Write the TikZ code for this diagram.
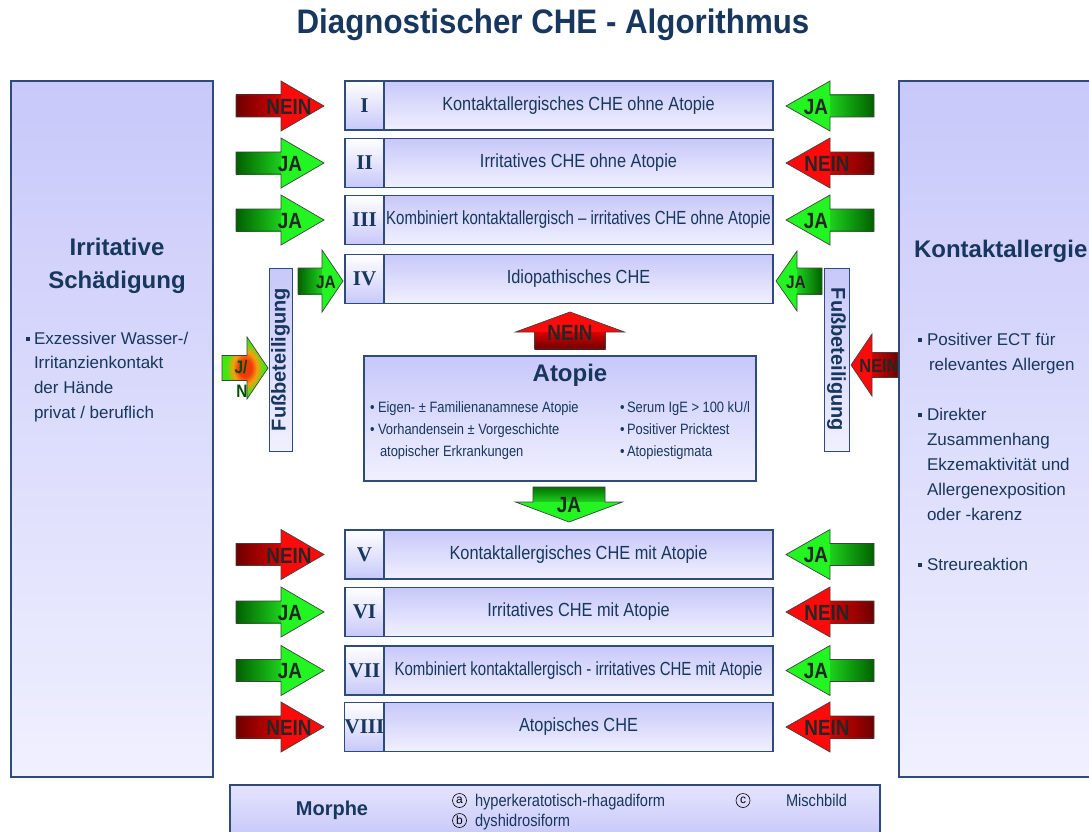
\documentclass[tikz,border=0pt]{standalone}
\usepackage{fontspec}
\setmainfont{Liberation Sans}
\newfontfamily\narrowfont[FakeStretch=0.86]{Liberation Sans}
\newfontfamily\titlefont[FakeStretch=0.92]{Liberation Sans}
\newfontfamily\tightfont[FakeStretch=0.79]{Liberation Sans}
\newfontfamily\numfont{Liberation Serif}

\definecolor{navy}{HTML}{17375E}
\definecolor{frame}{HTML}{2F4B7C}
\definecolor{lavtop}{HTML}{C8C8FA}
\definecolor{lavbot}{HTML}{F0F0FF}
\definecolor{gdark}{HTML}{006000}
\definecolor{glight}{HTML}{22F522}
\definecolor{rdark}{HTML}{6E0000}
\definecolor{rlight}{HTML}{FF0A0A}
\definecolor{labelgray}{HTML}{262626}
\definecolor{jngreen}{HTML}{40E810}
\definecolor{jnred}{HTML}{F03A08}
\definecolor{jnorange}{HTML}{F5A010}

% green arrow with a reddish core
\pgfdeclareradialshading{jnshade}{\pgfpoint{0bp}{0bp}}{%
  color(0bp)=(jnred); color(7bp)=(jnred); color(13bp)=(jnorange);
  color(21bp)=(jngreen); color(50bp)=(jngreen)}

\newcommand{\fs}[2]{\fontsize{#1}{#2}\selectfont}

% horizontal block arrow: tail x, base x, tip x, centre y,
% shaft half height, head half height, shaft left colour, shaft right colour, head colour
\newcommand{\harrow}[9]{%
  \path[left color=#7, right color=#8] (#1,#4-#5) rectangle (#2,#4+#5);
  \path[fill=#9] (#2,#4-#6) -- (#3,#4) -- (#2,#4+#6) -- cycle;
  \draw[arrowline] (#1,#4-#5) -- (#2,#4-#5) -- (#2,#4-#6) -- (#3,#4)
     -- (#2,#4+#6) -- (#2,#4+#5) -- (#1,#4+#5) -- cycle;
}
% vertical block arrow: tail y, base y, tip y, centre x,
% shaft half width, head half width, shaft top colour, shaft bottom colour, head colour
\newcommand{\varrow}[9]{%
  \path[top color=#7, bottom color=#8] (#4-#5,#1) rectangle (#4+#5,#2);
  \path[fill=#9] (#4-#6,#2) -- (#4,#3) -- (#4+#6,#2) -- cycle;
  \draw[arrowline] (#4-#5,#1) -- (#4-#5,#2) -- (#4-#6,#2) -- (#4,#3)
     -- (#4+#6,#2) -- (#4+#5,#2) -- (#4+#5,#1) -- cycle;
}

\begin{document}
\begin{tikzpicture}[x=1pt,y=-1pt,
  every node/.style={inner sep=0pt, outer sep=0pt},
  arrowline/.style={draw=black!75, line width=0.7pt, line join=miter},
  lavbox/.style={draw=frame, line width=1.1pt, top color=lavtop, bottom color=lavbot},
  numcell/.style={draw=frame, line width=1.1pt, top color=white, bottom color=lavtop,
    minimum width=39, minimum height=49, font=\numfont\bfseries\fs{21}{21}, text=navy},
  textcell/.style={lavbox, minimum width=389, minimum height=49,
    font=\narrowfont\fs{19}{19}, text=navy},
  tighttext/.style={font=\tightfont\fs{19}{19}},
  lab/.style={font=\narrowfont\bfseries\fs{22}{22}, text=labelgray},
  sidehead/.style={font=\bfseries\fs{24}{24}, text=navy},
  sidetext/.style={font=\fs{17}{17}, text=navy, anchor=base west},
  sq/.style={fill=navy, minimum size=4},
  atext/.style={font=\narrowfont\fs{15}{15}, text=navy, anchor=base west},
  foot/.style={font=\bfseries\fs{20}{20}, text=navy},
  circled/.style={circle, draw=black, line width=0.6pt, minimum size=14,
    font=\fs{12}{12}, text=black},
]
\useasboundingbox (0,0) rectangle (1089,832);
\fill[white] (0,0) rectangle (1089,832);

% title
\node[font=\titlefont\bfseries\fs{34}{34}, text=navy] (title) at (553,25) {Diagnostischer CHE - Algorithmus};

% side panels
\node[lavbox, minimum width=202, minimum height=696] (irr) at (112,429) {};
\node[lavbox, minimum width=196, minimum height=696] (kon) at (997,429) {};

\node[sidehead, anchor=base] (irrA) at (117,255) {Irritative};
\node[sidehead, anchor=base] (irrB) at (117,288) {Schädigung};
\node[sq] (irrS) at (27.5,339) {};
\node[sidetext] (irr1) at (34,344) {Exzessiver Wasser-/};
\node[sidetext] (irr2) at (34,368) {Irritanzienkontakt};
\node[sidetext] (irr3) at (34,393) {der Hände};
\node[sidetext] (irr4) at (34,418) {privat / beruflich};

\node[sidehead, anchor=base west] (konA) at (914,257) {Kontaktallergie};
\node[sq] (konS1) at (919.5,340) {};
\node[sidetext] (kon1) at (927,345) {Positiver ECT für};
\node[sidetext] (kon2) at (929,370) {relevantes Allergen};
\node[sq] (konS2) at (919.5,415) {};
\node[sidetext] (kon3) at (927,420) {Direkter};
\node[sidetext] (kon4) at (927,445) {Zusammenhang};
\node[sidetext] (kon5) at (927,470) {Ekzemaktivität und};
\node[sidetext] (kon6) at (927,495) {Allergenexposition};
\node[sidetext] (kon7) at (927,520) {oder -karenz};
\node[sq] (konS3) at (919.5,565) {};
\node[sidetext] (kon8) at (927,570) {Streureaktion};

% diagnosis rows
\node[numcell] (n1) at (364.5,105.5) {I};
\node[textcell] (t1) at (578.5,105.5) {Kontaktallergisches CHE ohne Atopie};
\node[numcell] (n2) at (364.5,163) {II};
\node[textcell] (t2) at (578.5,163) {Irritatives CHE ohne Atopie};
\node[numcell] (n3) at (364.5,220) {III};
\node[textcell, tighttext] (t3) at (578.5,220) {Kombiniert kontaktallergisch – irritatives CHE ohne Atopie};
\node[numcell] (n4) at (364.5,279) {IV};
\node[textcell] (t4) at (578.5,279) {Idiopathisches CHE};
\node[numcell] (n5) at (364.5,554.5) {V};
\node[textcell] (t5) at (578.5,554.5) {Kontaktallergisches CHE mit Atopie};
\node[numcell] (n6) at (364.5,612) {VI};
\node[textcell] (t6) at (578.5,612) {Irritatives CHE mit Atopie};
\node[numcell] (n7) at (364.5,670.5) {VII};
\node[textcell, tighttext] (t7) at (578.5,670.5) {Kombiniert kontaktallergisch - irritatives CHE mit Atopie};
\node[numcell] (n8) at (364.5,727) {VIII};
\node[textcell] (t8) at (578.5,727) {Atopisches CHE};

% atopy box
\node[lavbox, minimum width=392, minimum height=125] (atopie) at (560,418.5) {};
\node[font=\bfseries\fs{24}{24}, text=navy, anchor=base] (atT) at (570,381) {Atopie};
\node[atext] (atB1) at (370,412) {•};
\node[atext] (atL1) at (378,412) {Eigen- ± Familienanamnese Atopie};
\node[atext] (atB2) at (370,434) {•};
\node[atext] (atL2) at (378,434) {Vorhandensein ± Vorgeschichte};
\node[atext] (atL3) at (380,456) {atopischer Erkrankungen};
\node[atext] (atB4) at (620,412) {•};
\node[atext] (atR1) at (627,412) {Serum IgE > 100 kU/l};
\node[atext] (atB5) at (620,434) {•};
\node[atext] (atR2) at (627,434) {Positiver Pricktest};
\node[atext] (atB6) at (620,456) {•};
\node[atext] (atR3) at (627,456) {Atopiestigmata};

% foot involvement bars
\node[lavbox, line width=0.9pt, minimum width=23, minimum height=183] (fussL) at (280.5,359.5) {};
\node[foot, rotate=90] (fussLt) at (fussL) {Fußbeteiligung};
\node[lavbox, line width=0.9pt, minimum width=25, minimum height=183] (fussR) at (836.5,359.5) {};
\node[foot, rotate=-90] (fussRt) at (fussR) {Fußbeteiligung};

% arrows from the left (pointing right)
\harrow{236}{281}{324}{106}{11}{25}{rdark}{red!85!black}{rlight}
\harrow{236}{281}{324}{163}{11}{25}{gdark}{glight!85!black}{glight}
\harrow{236}{281}{324}{220}{11}{25}{gdark}{glight!85!black}{glight}
\harrow{236}{281}{324}{554.5}{11}{25}{rdark}{red!85!black}{rlight}
\harrow{236}{281}{324}{612}{11}{25}{gdark}{glight!85!black}{glight}
\harrow{236}{281}{324}{670.5}{11}{25}{gdark}{glight!85!black}{glight}
\harrow{236}{281}{324}{727}{11}{25}{rdark}{red!85!black}{rlight}
\harrow{298}{322}{343}{281}{13}{31}{gdark}{glight!85!black}{glight}

\node[lab] (lL1) at (289,107) {NEIN};
\node[lab] (lL2) at (290,164) {JA};
\node[lab] (lL3) at (290,221) {JA};
\node[lab] (lL5) at (289,555.5) {NEIN};
\node[lab] (lL6) at (290,613) {JA};
\node[lab] (lL7) at (290,671.5) {JA};
\node[lab] (lL8) at (289,728) {NEIN};
\node[lab, font=\narrowfont\bfseries\fs{18}{18}] (lL4) at (326,282) {JA};

% arrows from the right (pointing left)
\harrow{874}{830}{786}{106}{11}{25}{glight!85!black}{gdark}{glight}
\harrow{874}{830}{786}{163}{11}{25}{red!85!black}{rdark}{rlight}
\harrow{874}{830}{786}{220}{11}{25}{glight!85!black}{gdark}{glight}
\harrow{874}{830}{786}{554.5}{11}{25}{glight!85!black}{gdark}{glight}
\harrow{874}{830}{786}{612}{11}{25}{red!85!black}{rdark}{rlight}
\harrow{874}{830}{786}{670.5}{11}{25}{glight!85!black}{gdark}{glight}
\harrow{874}{830}{786}{727}{11}{25}{red!85!black}{rdark}{rlight}
\harrow{822}{797}{776}{281}{13}{30}{glight!85!black}{gdark}{glight}
\harrow{898}{872}{851}{365}{12.5}{31}{red!85!black}{rdark}{rlight}

\node[lab] (lR1) at (816,107) {JA};
\node[lab] (lR2) at (827,164) {NEIN};
\node[lab] (lR3) at (816,221) {JA};
\node[lab] (lR5) at (816,555.5) {JA};
\node[lab] (lR6) at (827,613) {NEIN};
\node[lab] (lR7) at (816,671.5) {JA};
\node[lab] (lR8) at (827,728) {NEIN};
\node[lab, font=\narrowfont\bfseries\fs{18}{18}] (lR4) at (796,282) {JA};
\node[lab, font=\narrowfont\bfseries\fs{19}{19}] (lRF) at (879,366) {NEIN};

% mixed yes/no arrow into the left foot bar
\path[shading=jnshade]
  (222,355.5) -- (247,355.5) -- (247,337) -- (268,368) -- (247,399) -- (247,380.5) -- (222,380.5) -- cycle;
\draw[arrowline]
  (222,355.5) -- (247,355.5) -- (247,337) -- (268,368) -- (247,399) -- (247,380.5) -- (222,380.5) -- cycle;
\node[lab, font=\narrowfont\bfseries\fs{18}{18}, text=green!30!black] (jn1) at (241,367) {J/};
\node[lab, font=\narrowfont\bfseries\fs{18}{18}, text=green!30!black] (jn2) at (242,391) {N};

% arrows above and below the atopy box
\varrow{349}{332}{312}{570}{35.5}{54.5}{red!85!black}{rdark}{rlight}
\node[lab] (lUp) at (570,333) {NEIN};
\varrow{487}{502}{522}{569}{36}{53.5}{gdark!90!glight}{glight!85!black}{glight}
\node[lab] (lDn) at (569,505) {JA};

% morphology legend
\node[draw=frame, line width=1.1pt, top color=lavbot!70!lavtop, bottom color=lavtop,
  minimum width=650, minimum height=52] (morph) at (555,811) {};
\node[font=\bfseries\fs{20}{20}, text=navy, anchor=base] (mT) at (332,815) {Morphe};
\node[circled] (ma) at (459.5,800.5) {a};
\node[font=\narrowfont\fs{17}{17}, text=navy, anchor=base west] (maT) at (475,806) {hyperkeratotisch-rhagadiform};
\node[circled] (mb) at (459.5,820.5) {b};
\node[font=\narrowfont\fs{17}{17}, text=navy, anchor=base west] (mbT) at (475,826) {dyshidrosiform};
\node[circled] (mc) at (743,800.5) {c};
\node[font=\narrowfont\fs{17}{17}, text=navy, anchor=base west] (mcT) at (786,806) {Mischbild};
\end{tikzpicture}
\end{document}
